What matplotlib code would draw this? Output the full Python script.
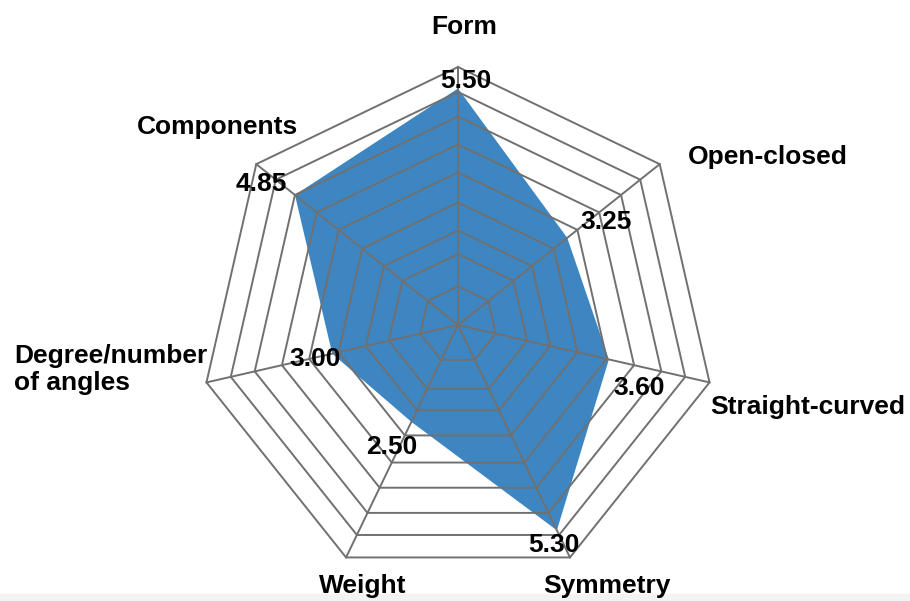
import numpy as np
import matplotlib
matplotlib.use("Agg")
import matplotlib.pyplot as plt
from matplotlib.patches import Rectangle

plt.rcParams['font.family'] = ['Liberation Sans', 'DejaVu Sans']

categories = ['Form', 'Open-closed', 'Straight-curved', 'Symmetry',
              'Weight', 'Degree/number\nof angles', 'Components']
scores = [5.50, 3.25, 3.60, 5.30, 2.50, 3.00, 4.85]
ring_levels = [0.9, 1.65, 2.2, 2.85, 3.55, 4.2, 4.85, 5.42, 6.0]
r_max = 6.0

# pixel size of one score unit
px = 258 / r_max
W, H = 910, 601
cx, cy = 458, 325

fig = plt.figure(figsize=(W / 100, H / 100), dpi=100)
ax = fig.add_axes([0, 0, 1, 1])
ax.set_xlim(-cx / px, (W - cx) / px)
ax.set_ylim(-(H - cy) / px, cy / px)
ax.axis('off')

n = len(categories)
ang = np.arange(n) * 2 * np.pi / n
ux, uy = np.sin(ang), np.cos(ang)


def pts(r):
    r = np.asarray(r, dtype=float)
    return r * ux, r * uy


# filled score polygon
sx, sy = pts(scores)
ax.fill(sx, sy, color='#3d86c2', lw=0, zorder=1)

# heptagon grid + spokes on top of the fill
grid_col = '#707070'
for lv in ring_levels:
    gx, gy = pts([lv] * n)
    ax.plot(np.append(gx, gx[0]), np.append(gy, gy[0]), color=grid_col, lw=1.4,
            solid_joinstyle='miter', zorder=2)
for i in range(n):
    ax.plot([0, r_max * ux[i]], [0, r_max * uy[i]], color=grid_col, lw=1.4, zorder=2)

fs = 19
# value labels, offsets in pixels (x right, y down)
val_off = [(8, -8), (39, -16), (30, 29), (-3, 15), (-20, 25), (-17, 5), (-34, -11)]
for i, v in enumerate(scores):
    dx, dy = val_off[i]
    ax.annotate(f'{v:.2f}', xy=(sx[i], sy[i]), xytext=(dx * 0.72, -dy * 0.72),
                textcoords='offset points', ha='center', va='center',
                fontsize=fs, fontweight='bold', zorder=4)

# category labels around the outer ring
ox, oy = pts([r_max] * n)
cat_pos = [((6, -40), 'center'), ((28, -7), 'left'), ((1, 25), 'left'),
           ((37, 29), 'center'), ((17, 29), 'center'), ((1, -13), 'right'),
           ((-39, -37), 'center')]
for i, lab in enumerate(categories):
    (dx, dy), ha = cat_pos[i]
    ax.annotate(lab, xy=(ox[i], oy[i]), xytext=(dx * 0.72, -dy * 0.72),
                textcoords='offset points', ha=ha, va='center',
                multialignment='left', linespacing=1.2,
                fontsize=fs, fontweight='bold', zorder=4)

fig.patches.append(Rectangle((0, 0), 1, 7 / H, transform=fig.transFigure,
                             color='#f3f3f3', zorder=-1))

fig.savefig('out.png', dpi=100)
